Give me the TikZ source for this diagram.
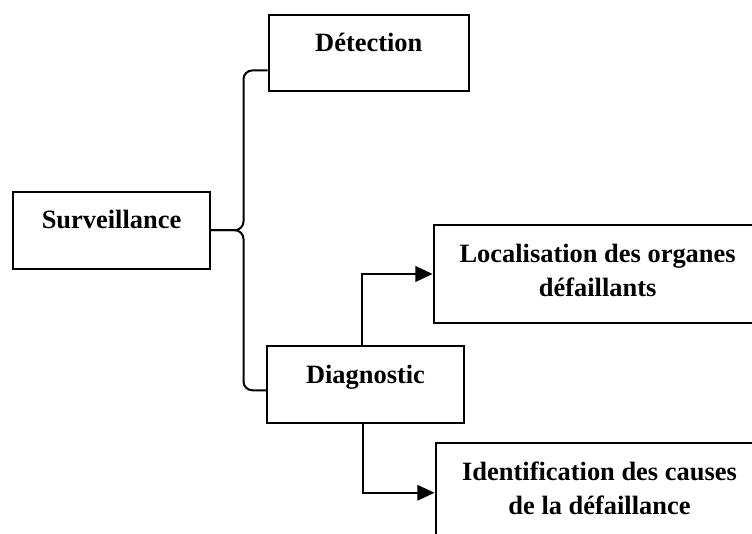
\documentclass[tikz,border=0pt]{standalone}
\usepackage{fontspec}
\setmainfont{Liberation Serif}
\usetikzlibrary{arrows.meta,calc}

\begin{document}
\begin{tikzpicture}[x=0.25mm,y=-0.25mm,
  box/.style={draw,line width=0.5mm,anchor=north west,inner sep=0pt,align=center,
    font=\bfseries\fontsize{18.8}{24.5}\selectfont,text height=9.25mm},
  brace/.style={line width=0.5mm,rounded corners=2.2mm},
  link/.style={line width=0.45mm,-{Triangle[length=4.3mm,width=3.9mm]}}]
\useasboundingbox (0,0) rectangle (752,533);
\clip (0,0) rectangle (752,533);

\draw (267.6,13.6)node[box,minimum width=50.1mm,text depth=9.85mm](det){Détection};
\draw (12,190.5)node[box,minimum width=49.25mm,text depth=10.1mm](surv){Surveillance};
\draw (266,345)node[box,minimum width=49.25mm,text depth=10.1mm](diag){Diagnostic};
\draw (432.6,224)node[box,minimum width=82mm,text height=17.9mm,text depth=6.6mm](loc){Localisation des organes\\défaillants};
\draw (434.5,442)node[box,minimum width=82mm,text height=17.9mm,text depth=6.98mm](ident){Identification des causes\\de la défaillance};

% accolade
\coordinate (dhook) at ($(det.south west)!0.275!(det.north west)$);
\coordinate (ghook) at ($(diag.south west)!0.43!(diag.north west)$);
\draw[brace] (surv.east) -| (243.5,0 |- dhook) -- (dhook);
\draw[brace] (surv.east) -| (243.5,0 |- ghook) -- (ghook);

\draw[link] ($(diag.north)+(-3.5,0)$) |- (loc.west);
\draw[link] ($(diag.south)+(-2.5,0)$) |- (ident.west);
\end{tikzpicture}
\end{document}
